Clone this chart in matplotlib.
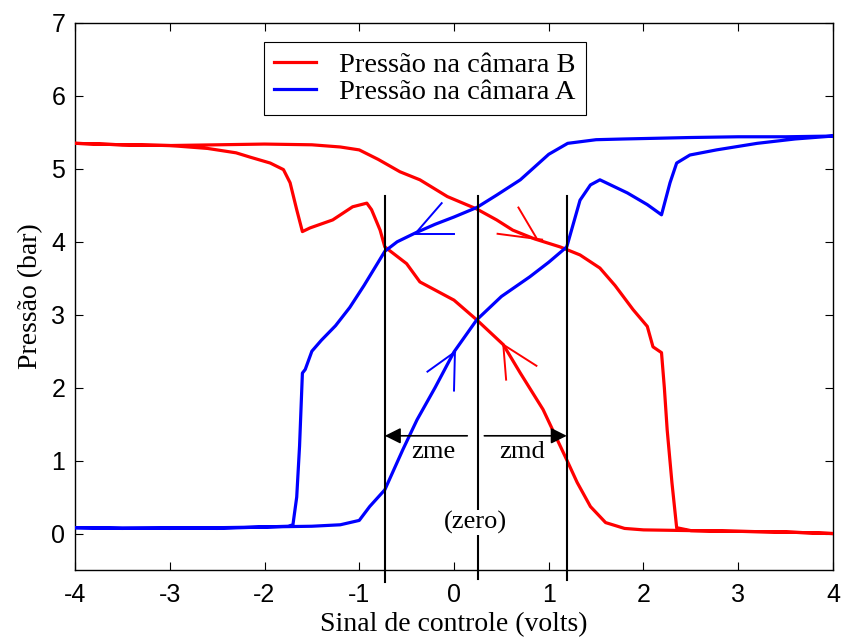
import matplotlib
matplotlib.use("Agg")
import matplotlib.pyplot as plt
from matplotlib.patches import FancyArrowPatch

plt.rcParams["axes.unicode_minus"] = False

# Pressure in chamber B: upper branch (late drop) then lower branch (early dip)
b_up_x = [-4.0, -3.5, -3.0, -2.5, -2.0, -1.5, -1.2, -1.0, -0.8, -0.57, -0.36, -0.07,
          0.24, 0.45, 0.62, 0.85, 1.12, 1.33, 1.54, 1.7, 1.89, 2.04, 2.1, 2.19, 2.22,
          2.25, 2.3, 2.35, 2.5, 3.0, 3.5, 4.0]
b_up_y = [5.35, 5.33, 5.32, 5.33, 5.34, 5.33, 5.30, 5.26, 5.13, 4.96, 4.85, 4.62,
          4.45, 4.30, 4.16, 4.04, 3.93, 3.82, 3.64, 3.40, 3.07, 2.84, 2.56, 2.48, 2.00,
          1.42, 0.70, 0.08, 0.04, 0.03, 0.02, 0.00]
b_lo_x = [-4.0, -3.5, -3.0, -2.6, -2.3, -2.15, -1.94, -1.8, -1.73, -1.66, -1.6, -1.52,
          -1.28, -1.07, -0.92, -0.87, -0.78, -0.73, -0.5, -0.36, 0.0, 0.24, 0.52, 0.7,
          0.94, 1.19, 1.3, 1.44, 1.6, 1.8, 2.0, 2.5, 3.0, 3.5, 4.0]
b_lo_y = [5.35, 5.33, 5.32, 5.28, 5.22, 5.16, 5.08, 4.99, 4.81, 4.44, 4.14, 4.19,
          4.30, 4.48, 4.53, 4.44, 4.16, 3.93, 3.70, 3.45, 3.20, 2.93, 2.59, 2.20,
          1.70, 1.01, 0.70, 0.37, 0.15, 0.07, 0.05, 0.04, 0.03, 0.02, 0.00]

# Pressure in chamber A: upper branch (early jump) then lower branch (late dip)
a_up_x = [-4.0, -3.5, -3.0, -2.5, -2.0, -1.75, -1.7, -1.66, -1.63, -1.6, -1.57, -1.5,
          -1.4, -1.25, -1.1, -0.95, -0.8, -0.73, -0.6, -0.41, -0.2, 0.0, 0.24, 0.45,
          0.7, 1.0, 1.2, 1.5, 1.8, 2.5, 3.0, 3.5, 4.0]
a_up_y = [0.08, 0.07, 0.08, 0.07, 0.09, 0.10, 0.12, 0.50, 1.20, 2.20, 2.25, 2.50,
          2.65, 2.85, 3.10, 3.40, 3.72, 3.87, 4.00, 4.12, 4.24, 4.34, 4.47, 4.64,
          4.85, 5.20, 5.35, 5.40, 5.41, 5.43, 5.44, 5.44, 5.45]
a_lo_x = [-4.0, -3.0, -2.0, -1.5, -1.2, -1.0, -0.89, -0.73, -0.54, -0.39, -0.2, 0.0,
          0.24, 0.5, 0.8, 1.0, 1.19, 1.33, 1.44, 1.54, 1.83, 2.04, 2.19, 2.28, 2.35,
          2.49, 2.77, 3.2, 3.6, 4.0]
a_lo_y = [0.08, 0.07, 0.09, 0.10, 0.12, 0.18, 0.37, 0.60, 1.15, 1.56, 2.00, 2.49,
          2.93, 3.25, 3.52, 3.72, 3.93, 4.57, 4.78, 4.85, 4.67, 4.51, 4.37, 4.81, 5.08,
          5.19, 5.26, 5.35, 5.41, 5.45]

# Dead-zone markers
zone_x = [-0.73, 0.25, 1.19]
zone_bottom = [-0.67, -0.62, -0.64]
zone_top = 4.63

# Thin tangent guides near the crossings
guides_blue = [([-0.41, -0.13], [4.11, 4.53]), ([-0.41, 0.0], [4.11, 4.11]),
               ([0.01, -0.28], [2.49, 2.22]), ([0.01, 0.0], [2.49, 1.96])]
guides_red = [([0.46, 0.93], [4.11, 4.03]), ([0.68, 0.88], [4.47, 4.03]),
              ([0.52, 0.87], [2.59, 2.30]), ([0.52, 0.55], [2.59, 2.11])]

serif = "Liberation Serif"
sans = "Liberation Sans"

fig = plt.figure(figsize=(8.41, 6.41), dpi=100)
ax = fig.add_axes([75 / 841, 71 / 641, 758 / 841, 547 / 641])

ax.plot(b_up_x + b_lo_x[::-1], b_up_y + b_lo_y[::-1], color="#ff0000", lw=2.3,
        label="Pressão na câmara B", zorder=3)
ax.plot(a_up_x + a_lo_x[::-1], a_up_y + a_lo_y[::-1], color="#0000ff", lw=2.3,
        label="Pressão na câmara A", zorder=3)

for gx, gy in guides_blue:
    ax.plot(gx, gy, color="#0000ff", lw=1.4, zorder=3)
for gx, gy in guides_red:
    ax.plot(gx, gy, color="#ff0000", lw=1.4, zorder=3)

for xv, yb in zip(zone_x, zone_bottom):
    ax.plot([xv, xv], [yb, zone_top], color="black", lw=1.5, clip_on=False, zorder=4)

for x0, x1 in [(0.14, -0.73), (0.32, 1.19)]:
    ax.add_patch(FancyArrowPatch((x0, 1.34), (x1, 1.34), arrowstyle="-|>",
                                 mutation_scale=24, color="black", lw=1.2, zorder=5,
                                 shrinkA=0, shrinkB=0))

ax.text(-0.22, 1.12, "zme", family=serif, fontsize=19, ha="center", va="center", zorder=6)
ax.text(0.72, 1.12, "zmd", family=serif, fontsize=19, ha="center", va="center", zorder=6)
ax.text(0.23, 0.15, "(zero)", family=serif, fontsize=19, ha="center", va="center", zorder=6,
        bbox=dict(facecolor="white", edgecolor="none", pad=0.5))

ax.set_xlim(-4, 4)
ax.set_ylim(-0.5, 7)
ax.set_xticks(range(-4, 5))
ax.set_yticks(range(0, 8))
ax.tick_params(direction="in", length=6, width=0.8, top=True, right=True, labelsize=18)
ax.tick_params(axis="x", pad=9)
ax.tick_params(axis="y", pad=7)
for lab in ax.get_xticklabels() + ax.get_yticklabels():
    lab.set_family(sans)
for sp in ax.spines.values():
    sp.set_linewidth(1.0)

ax.set_xlabel("Sinal de controle (volts)", family=serif, fontsize=20, labelpad=4)
ax.set_ylabel("Pressão (bar)", family=serif, fontsize=20, labelpad=6)

leg = ax.legend(loc="upper left", bbox_to_anchor=(0.249, 0.965), borderaxespad=0,
                prop={"family": serif, "size": 20.5},
                frameon=True, fancybox=False, edgecolor="black", framealpha=1,
                handlelength=1.5, borderpad=0.35, labelspacing=0.05, handletextpad=0.8)
leg.get_frame().set_linewidth(0.8)

fig.savefig("out.png", dpi=100)
